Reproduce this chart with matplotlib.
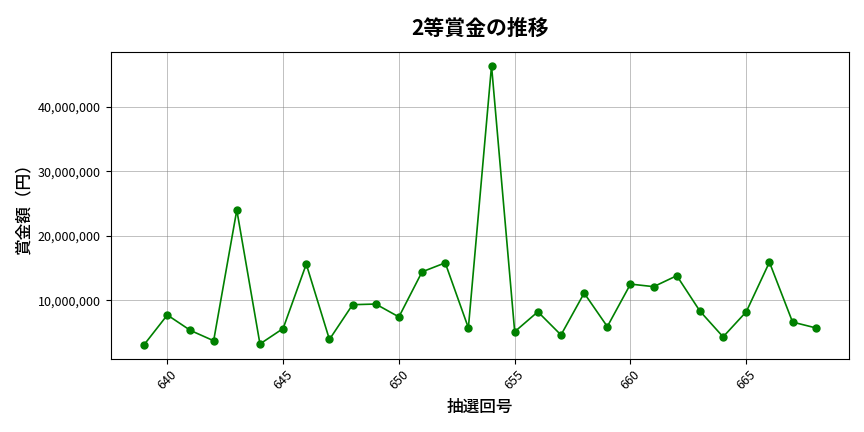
import matplotlib
matplotlib.use("Agg")
import matplotlib.pyplot as plt
from matplotlib.ticker import FuncFormatter

plt.rcParams['font.family'] = ['Noto Sans CJK JP', 'DejaVu Sans']

draws = list(range(639, 669))
prizes = [3.1e6, 7.7e6, 5.3e6, 3.7e6, 24.0e6, 3.2e6, 5.6e6, 15.6e6, 3.9e6, 9.3e6,
          9.4e6, 7.4e6, 14.4e6, 15.8e6, 5.7e6, 46.4e6, 5.1e6, 8.2e6, 4.6e6, 11.1e6,
          5.9e6, 12.5e6, 12.1e6, 13.8e6, 8.3e6, 4.3e6, 8.2e6, 15.9e6, 6.6e6, 5.7e6]

fig, ax = plt.subplots(figsize=(8.64, 4.32), dpi=100)
ax.plot(draws, prizes, color='green', marker='o', markersize=5, linewidth=1.2)
ax.set_title('2等賞金の推移', fontsize=15, fontweight='bold', pad=12)
ax.set_xlabel('抽選回号', fontsize=12, fontweight='medium')
ax.set_ylabel('賞金額（円）', fontsize=12, fontweight='medium')
ax.yaxis.set_major_formatter(FuncFormatter(lambda v, p: f'{int(v):,}'))
ax.grid(True, color='gray', alpha=0.5, linewidth=0.7)
ax.set_xticks(range(640, 669, 5))
plt.setp(ax.get_xticklabels(), rotation=45)
ax.tick_params(labelsize=9)
fig.subplots_adjust(left=0.128, right=0.983, top=0.88, bottom=0.17)
fig.savefig('out.png', dpi=100)
